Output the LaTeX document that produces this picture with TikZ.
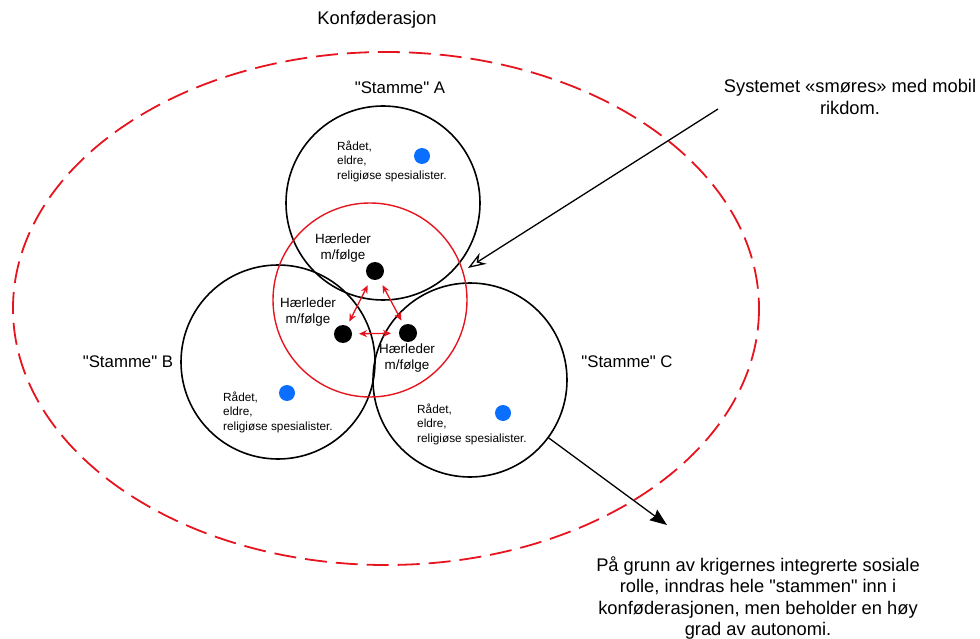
\documentclass[tikz,border=0pt]{standalone}
\usepackage{fontspec}
\setmainfont{Liberation Sans}
\usetikzlibrary{arrows.meta}
\definecolor{dotblue}{RGB}{10,110,255}
\definecolor{linered}{RGB}{230,20,30}
\newcommand{\dq}{\textquotedbl}
\tikzset{
  tribe/.style={circle, draw=black, line width=1.6pt, minimum size=194pt, inner sep=0pt, outer sep=0pt},
  core/.style={circle, draw=linered, line width=1.4pt, minimum size=194pt, inner sep=0pt, outer sep=0pt},
  leader/.style={circle, fill=black, minimum size=18pt, inner sep=0pt, outer sep=0pt},
  council/.style={circle, fill=dotblue, minimum size=16pt, inner sep=0pt, outer sep=0pt},
  bigtxt/.style={inner sep=0pt, align=center, font=\fontsize{18.3}{21.5}\selectfont},
  stammetxt/.style={inner sep=0pt, font=\fontsize{16.8}{20}\selectfont},
  ledtxt/.style={inner sep=0pt, align=center, font=\fontsize{13.4}{15.5}\selectfont},
  smalltxt/.style={inner sep=0pt, align=left, anchor=west, font=\fontsize{11.8}{14.5}\selectfont},
  redarrow/.style={draw=linered, line width=1.3pt, {Stealth[length=8pt,width=7pt]}-{Stealth[length=8pt,width=7pt]}},
}
\begin{document}
\begin{tikzpicture}[x=1pt,y=-1pt]
\useasboundingbox (0,0) rectangle (980,639);
% confederation ellipse
\draw[linered, line width=1.8pt, dash pattern=on 22pt off 9pt] (386,308.5) ellipse [x radius=373, y radius=256.5];
% tribes
\node[tribe] (cA) at (383,203) {};
\node[tribe] (cB) at (278,362) {};
\node[tribe] (cC) at (470,380) {};
\node[core] (cR) at (370,300) {};
% council dots
\node[council] (bA) at (422,156) {};
\node[council] (bB) at (287,393) {};
\node[council] (bC) at (503,413) {};
% leaders
\node[leader] (hA) at (375,271) {};
\node[leader] (hB) at (343,334) {};
\node[leader] (hC) at (408,333) {};
\draw[redarrow, shorten <=7pt, shorten >=5pt] (hA) -- (hB);
\draw[redarrow, shorten <=7pt, shorten >=5pt] (hA) -- (hC);
\draw[redarrow, shorten <=7pt, shorten >=8pt] (hB) -- (hC);
% texts
\node[bigtxt] (konf) at (377,20) {Konføderasjon};
\node[stammetxt] (sA) at (400,88) {\dq Stamme\dq\ A};
\node[stammetxt] (sB) at (128,362) {\dq Stamme\dq\ B};
\node[stammetxt] (sC) at (627,362) {\dq Stamme\dq\ C};
\node[smalltxt] (rA) at (337,161) {Rådet,\\eldre,\\religiøse spesialister.};
\node[smalltxt] (rB) at (223,412) {Rådet,\\eldre,\\religiøse spesialister.};
\node[smalltxt] (rC) at (417,424) {Rådet,\\eldre,\\religiøse spesialister.};
\node[ledtxt] (lA) at (343,248) {Hærleder\\m/følge};
\node[ledtxt] (lB) at (308,312) {Hærleder\\m/følge};
\node[ledtxt] (lC) at (407,358) {Hærleder\\m/følge};
\node[bigtxt] (sys) at (850,97) {Systemet «smøres» med mobil\\rikdom.};
\node[bigtxt] (note) at (758,598) {På grunn av krigernes integrerte sosiale\\rolle, inndras hele \dq stammen\dq\ inn i\\konføderasjonen, men beholder en høy\\grad av autonomi.};
% big arrows
\coordinate (s1) at (718,109);
\coordinate (t1) at (468,268);
\draw[line width=1.3pt, -{Stealth[open, length=18pt, width=13pt, inset=6pt]}] (s1) -- (t1);
\coordinate (t2) at (667,525);
\draw[line width=1.3pt, -{Stealth[length=17pt, width=13pt, inset=2pt]}] (cC) -- (t2);
\end{tikzpicture}
\end{document}
